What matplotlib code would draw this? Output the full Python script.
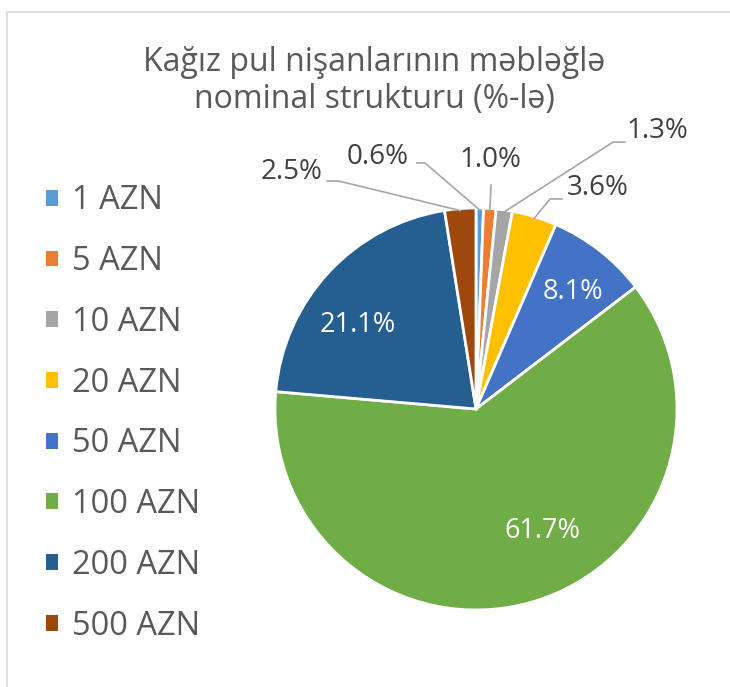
import numpy as np
import matplotlib.pyplot as plt
from matplotlib.patches import Rectangle, Patch

# data
labels = ['1 AZN', '5 AZN', '10 AZN', '20 AZN', '50 AZN', '100 AZN', '200 AZN', '500 AZN']
shares = [0.6, 1.0, 1.3, 3.6, 8.1, 61.7, 21.1, 2.5]
colors = ['#5B9BD5', '#ED7D31', '#A5A5A5', '#FFC000', '#4472C4', '#70AD47', '#255E91', '#9E480E']
title = 'Kağız pul nişanlarının məbləğlə\nnominal strukturu (%-lə)'

# label placement (data coords, pie radius = 1)
inside = {4: (0.483, 0.582), 5: (0.333, -0.607), 6: (-0.587, 0.418)}
outside = {
    0: ((-0.488, 1.254), [(-0.294, 1.224), (-0.254, 1.224)]),
    1: ((0.070, 1.239), [(0.075, 1.114)]),
    2: ((0.900, 1.383), [(0.741, 1.328), (0.682, 1.328)]),
    3: ((0.607, 1.100), [(0.428, 1.045), (0.368, 1.045)]),
    7: ((-0.920, 1.179), [(-0.741, 1.134), (-0.682, 1.134)]),
}

plt.rcParams['font.family'] = ['Open Sans', 'DejaVu Sans']
txt = '#595959'

fig = plt.figure(figsize=(7.3, 6.87), dpi=100)
fig.add_artist(Rectangle((7 / 730, -0.1), 1.2, 1 - 12 / 687 + 0.1, transform=fig.transFigure,
                         fill=False, edgecolor='#D9D9D9', linewidth=1.2))

ax = fig.add_axes([275 / 730, 77 / 687, 402 / 730, 402 / 687])
wedges, _ = ax.pie(shares, colors=colors, startangle=90, counterclock=False, radius=1,
                   wedgeprops=dict(edgecolor='white', linewidth=2))
ax.set_xlim(-1, 1)
ax.set_ylim(-1, 1)
ax.set_aspect('equal')
ax.axis('off')

for i, (x, y) in inside.items():
    ax.text(x, y, f'{shares[i]:.1f}%', color='white', fontsize=19.5, ha='center', va='center')

for i, ((x, y), pts) in outside.items():
    ax.text(x, y, f'{shares[i]:.1f}%', color='#404040', fontsize=20, ha='center', va='center',
            clip_on=False)
    w = wedges[i]
    th = np.deg2rad((w.theta1 + w.theta2) / 2)
    path = pts + [(0.99 * np.cos(th), 0.99 * np.sin(th))]
    xs, ys = zip(*path)
    ax.plot(xs, ys, color='#A6A6A6', linewidth=1.2, clip_on=False)

fig.text(374 / 730, 1 - 81 / 687, title, ha='center', va='center', fontsize=23,
         color=txt, linespacing=1.15)

handles = [Patch(facecolor=c, edgecolor='none') for c in colors]
fig.legend(handles, labels, loc='upper left', bbox_to_anchor=(17 / 730, 1 - 155 / 687),
           frameon=False, fontsize=23.5, labelcolor=txt, handlelength=0.37, handleheight=0.37,
           handletextpad=0.42, labelspacing=0.85)

fig.savefig('out.png', dpi=100)
